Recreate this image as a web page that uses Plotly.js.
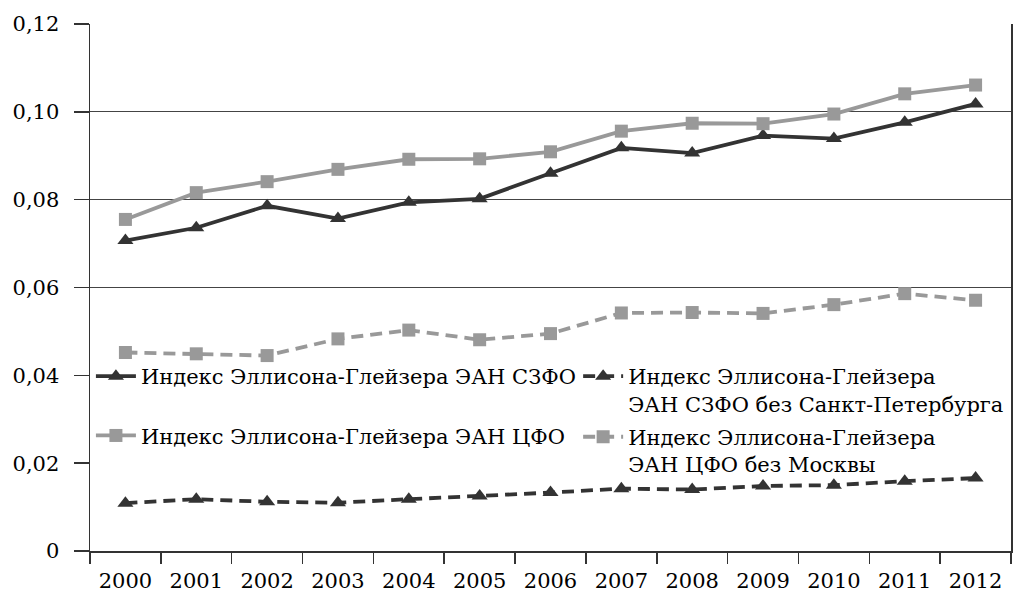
<!DOCTYPE html>
<html>
<head>
<meta charset="utf-8">
<script src="https://cdn.plot.ly/plotly-3.0.1.min.js"></script>
<style>html,body{margin:0;padding:0;background:#fff;}#chart{width:1014px;height:604px;}</style>
</head>
<body>
<div id="chart"></div>
<script>
const years = ["2000","2001","2002","2003","2004","2005","2006","2007","2008","2009","2010","2011","2012"];
const szfo = [0.0707,0.0736,0.0786,0.0757,0.0794,0.0802,0.0860,0.0918,0.0906,0.0946,0.0939,0.0976,0.1018];
const szfoNoSpb = [0.0109,0.0118,0.0112,0.0110,0.0118,0.0125,0.0133,0.0142,0.0140,0.0148,0.0150,0.0159,0.0166];
const cfo = [0.0755,0.0816,0.0841,0.0869,0.0892,0.0893,0.0909,0.0956,0.0974,0.0973,0.0995,0.1041,0.1061];
const cfoNoMsk = [0.0452,0.0449,0.0445,0.0483,0.0503,0.0481,0.0495,0.0542,0.0543,0.0541,0.0561,0.0586,0.0571];
const names = [
  "Индекс Эллисона-Глейзера ЭАН СЗФО",
  "Индекс Эллисона-Глейзера<br>ЭАН СЗФО без Санкт-Петербурга",
  "Индекс Эллисона-Глейзера ЭАН ЦФО",
  "Индекс Эллисона-Глейзера<br>ЭАН ЦФО без Москвы"
];
const yTickVals = [0,0.02,0.04,0.06,0.08,0.10,0.12];
const yTickText = ["0","0,02","0,04","0,06","0,08","0,10","0,12"];
const gridVals = [0.06,0.08,0.10,0.12];

const dark = "#333333", grey = "#999999";
const traces = [
  {x: years, y: szfo, name: names[0], mode: "lines+markers", legend: "legend", legendgroup: "a",
   line: {color: dark, width: 3.8}, marker: {symbol: "triangle-up", size: 14, color: dark}},
  {x: years, y: szfoNoSpb, name: names[1], mode: "lines+markers", legend: "legend2", legendgroup: "c",
   line: {color: dark, width: 3.8, dash: "12px,7px"}, marker: {symbol: "triangle-up", size: 14, color: dark}},
  {x: years, y: cfo, name: names[2], mode: "lines+markers", legend: "legend", legendgroup: "b",
   line: {color: grey, width: 3.8}, marker: {symbol: "square", size: 13, color: grey}},
  {x: years, y: cfoNoMsk, name: names[3], mode: "lines+markers", legend: "legend2", legendgroup: "d",
   line: {color: grey, width: 3.8, dash: "12px,7px"}, marker: {symbol: "square", size: 13, color: grey}},
  {x: years, y: szfo, yaxis: "y2", mode: "lines", showlegend: false, hoverinfo: "skip",
   line: {color: "rgba(0,0,0,0)", width: 0}}
];
const fnt = "DejaVu Serif";
const legendFont = {family: fnt, size: 21, color: "#000"};
const layout = {
  width: 1014, height: 604,
  margin: {l: 90, r: 3, t: 24, b: 53},
  paper_bgcolor: "#fff", plot_bgcolor: "#fff",
  font: {family: fnt, size: 21, color: "#000"},
  showlegend: true,
  legend: {
    x: 0.001, xanchor: "left", y: 0.37, yanchor: "top",
    bgcolor: "rgba(0,0,0,0)", borderwidth: 0, valign: "top",
    font: legendFont, itemwidth: 40, tracegroupgap: 29, traceorder: "grouped"
  },
  legend2: {
    x: 0.530, xanchor: "left", y: 0.37, yanchor: "top",
    bgcolor: "rgba(0,0,0,0)", borderwidth: 0, valign: "top",
    font: legendFont, itemwidth: 40, tracegroupgap: 3, traceorder: "grouped"
  },
  xaxis: {
    type: "category", range: [-0.5, 12.5],
    tickson: "boundaries", ticks: "outside", ticklen: 11, tickcolor: "#333", tickwidth: 1.5,
    showline: true, linecolor: "#333", linewidth: 1.5, showgrid: false, zeroline: false,
    ticklabelstandoff: 10,
    tickfont: {family: fnt, size: 21, color: "#000"}
  },
  yaxis: {
    range: [0, 0.12], tickvals: yTickVals, ticktext: yTickText,
    ticks: "outside", ticklen: 15, tickcolor: "#333", tickwidth: 1.5,
    showline: true, mirror: true, linecolor: "#333", linewidth: 1.5,
    showgrid: false, zeroline: false,
    ticklabelstandoff: 10,
    tickfont: {family: fnt, size: 21, color: "#000"}
  },
  yaxis2: {
    overlaying: "y", side: "left", range: [0, 0.12], tickvals: gridVals,
    showticklabels: false, ticks: "", showline: false, zeroline: false,
    showgrid: true, gridcolor: "#444", gridwidth: 1.2
  }
};
Plotly.newPlot("chart", traces, layout, {displayModeBar: false, staticPlot: true});
</script>
</body>
</html>
